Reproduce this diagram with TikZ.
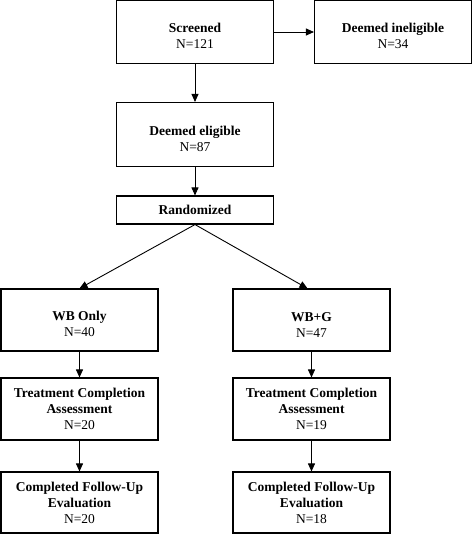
\documentclass[tikz,border=0pt]{standalone}
\usepackage{fontspec}
\setmainfont{Liberation Serif}
\usetikzlibrary{arrows.meta}

% pushes a two-line box text a little down
\newcommand{\lowstrut}{\rule{0pt}{18pt}}

\begin{document}
\begin{tikzpicture}[
    stage/.style={draw, line width=1.1pt, align=center, minimum width=157pt,
      inner sep=0pt, font=\fontsize{13.5}{16}\selectfont},
    flow/.style={-{Triangle[length=8pt,width=7pt]}, line width=0.9pt}]

  \useasboundingbox (0pt,0pt) rectangle (473pt,-534pt);

  % top part
  \node[stage, minimum height=63pt] (screened) at (195pt,-32pt)
    {\lowstrut\textbf{Screened}\\N=121};
  \node[stage, minimum height=63pt] (inelig) at (393pt,-32pt)
    {\lowstrut\textbf{Deemed ineligible}\\N=34};
  \node[stage, minimum height=64pt] (elig) at (195pt,-134.5pt)
    {\lowstrut\textbf{Deemed eligible}\\N=87};
  \node[stage, minimum height=28pt] (rand) at (195pt,-210pt)
    {\textbf{Randomized}};

  % two arms
  \node[stage, minimum height=62pt] (wb) at (79.5pt,-320pt)
    {\lowstrut\textbf{WB Only}\\N=40};
  \node[stage, minimum height=62pt] (wbg) at (311.5pt,-320pt)
    {\lowstrut\textbf{WB+G}\\N=47};
  \node[stage, minimum height=62pt] (treatwb) at (79.5pt,-409pt)
    {\textbf{Treatment Completion}\\\textbf{Assessment}\\N=20};
  \node[stage, minimum height=62pt] (treatwbg) at (311.5pt,-409pt)
    {\textbf{Treatment Completion}\\\textbf{Assessment}\\N=19};
  \node[stage, minimum height=61pt] (followwb) at (79.5pt,-502.5pt)
    {\textbf{Completed Follow-Up}\\\textbf{Evaluation}\\N=20};
  \node[stage, minimum height=61pt] (followwbg) at (311.5pt,-502.5pt)
    {\textbf{Completed Follow-Up}\\\textbf{Evaluation}\\N=18};

  \draw[flow] (screened) -- (inelig);
  \draw[flow] (screened) -- (elig);
  \draw[flow] (elig) -- (rand);
  \draw[flow] (rand.south) -- (wb.north);
  \draw[flow] (rand.south) -- ([xshift=-4pt]wbg.north);
  \draw[flow] (wb) -- (treatwb);
  \draw[flow] (wbg) -- (treatwbg);
  \draw[flow] (treatwb) -- (followwb);
  \draw[flow] (treatwbg) -- (followwbg);

\end{tikzpicture}
\end{document}
